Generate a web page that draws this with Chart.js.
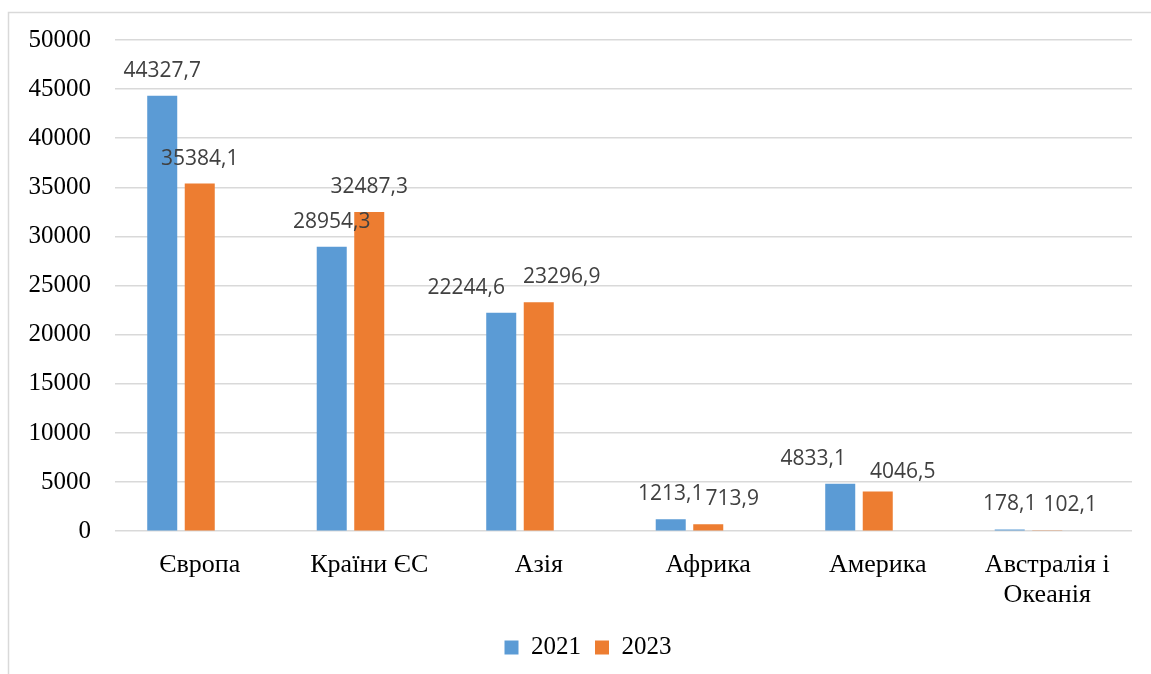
<!DOCTYPE html>
<html lang="uk">
<head>
<meta charset="utf-8">
<title>Графік</title>
<script src="https://cdn.jsdelivr.net/npm/chart.js@4.4.1/dist/chart.umd.min.js"></script>
<style>
  html, body { margin: 0; padding: 0; background: #fff; }
  #wrap { position: relative; width: 1151px; height: 674px; }
</style>
</head>
<body>
<div id="wrap"><canvas id="grafico"></canvas></div>
<script>
// Дані
const categories = ['Європа', 'Країни ЄС', 'Азія', 'Африка', 'Америка', ['Австралія і', 'Океанія']];
const seriesNames = ['2021', '2023'];
const values2021 = [44327.7, 28954.3, 22244.6, 1213.1, 4833.1, 178.1];
const values2023 = [35384.1, 32487.3, 23296.9, 713.9, 4046.5, 102.1];
const yMin = 0, yMax = 50000, yStep = 5000;

// зсув підписів (як у вихідному Excel-графіку)
const labelNudge = [
    [[0, 0], [0, 0], [-35, 0], [0, 0], [-27, 0], [0, 0]],
    [[0, 0], [0, 0], [23, 0], [24, 0], [25, 6], [23, 0]]
];

const serif = '"Liberation Serif", "Times New Roman", serif';

// рамка навколо області діаграми
const frame = {
    id: 'frame',
    beforeDraw(chart) {
        const c = chart.ctx;
        c.save();
        c.strokeStyle = '#d9d9d9';
        c.lineWidth = 1.5;
        c.beginPath();
        c.moveTo(8.5, chart.height);
        c.lineTo(8.5, 12.5);
        c.lineTo(chart.width, 12.5);
        c.stroke();
        c.restore();
    }
};

// легенда трохи правіше центру, як в оригіналі
const legendShift = {
    id: 'legendShift',
    afterLayout(chart) {
        chart.legend.left += 44;
    }
};

// підписи значень
const valueLabels = {
    id: 'valueLabels',
    afterDatasetsDraw(chart) {
        const c = chart.ctx;
        c.save();
        c.font = '21px "Open Sans", sans-serif';
        c.fillStyle = '#404040';
        c.textAlign = 'center';
        c.textBaseline = 'middle';
        for (let d = 0; d < 2; d++) {
            const meta = chart.getDatasetMeta(d);
            meta.data.forEach((bar, i) => {
                const v = chart.data.datasets[d].data[i];
                const n = labelNudge[d][i];
                c.fillText(v.toFixed(1).replace('.', ','), bar.x + n[0], bar.y - 25 + n[1]);
            });
        }
        c.restore();
    }
};

const ctx = document.getElementById('grafico').getContext('2d');
const grafico = new Chart(ctx, {
    type: 'bar',
    data: {
        labels: categories,
        datasets: [{
            label: seriesNames[0],
            data: values2021,
            backgroundColor: '#5b9bd5'
        }, {
            label: seriesNames[1],
            data: values2023,
            backgroundColor: '#ed7d31'
        }, {
            // порожній ряд, як у вихідному графіку
            label: '',
            data: categories.map(() => null),
            backgroundColor: 'rgba(0,0,0,0)'
        }]
    },
    options: {
        responsive: true,
        maintainAspectRatio: false,
        animation: false,
        categoryPercentage: 0.664,
        barPercentage: 0.8,
        layout: { padding: { left: 0, right: 19, top: 40, bottom: 4 } },
        scales: {
            x: {
                grid: { display: false },
                border: { display: false },
                ticks: {
                    color: '#000',
                    padding: 11,
                    maxRotation: 0,
                    font: { family: serif, size: 26, lineHeight: 1.15 }
                }
            },
            y: {
                min: yMin,
                max: yMax,
                afterFit(scale) { scale.width = 115; },
                grid: { color: '#d9d9d9', lineWidth: 1.5, drawTicks: false },
                border: { display: false },
                ticks: {
                    stepSize: yStep,
                    color: '#000',
                    padding: 24,
                    callback: v => String(v),
                    font: { family: serif, size: 25 }
                }
            }
        },
        plugins: {
            legend: {
                position: 'bottom',
                labels: {
                    filter: item => item.text !== '',
                    boxWidth: 14,
                    boxHeight: 14,
                    color: '#000',
                    padding: 14,
                    font: { family: serif, size: 25 }
                }
            },
            tooltip: { enabled: false }
        }
    },
    plugins: [frame, legendShift, valueLabels]
});
</script>
</body>
</html>
